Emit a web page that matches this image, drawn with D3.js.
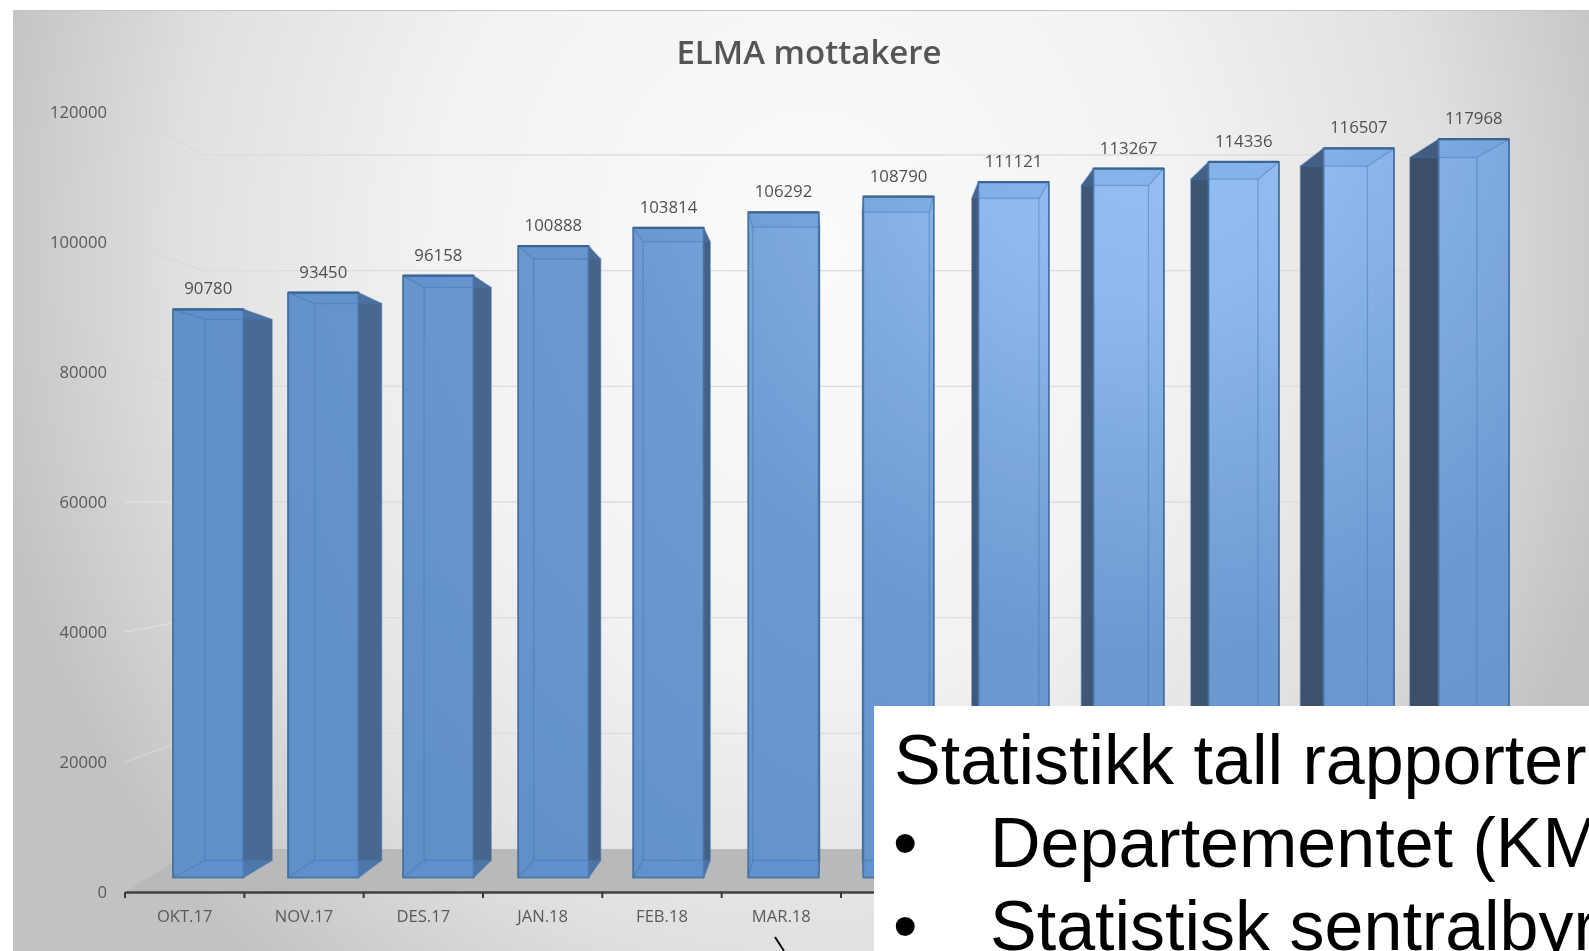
<!DOCTYPE html>
<html><head><meta charset="utf-8">
<script src="https://cdn.jsdelivr.net/npm/d3@7/dist/d3.min.js"></script>
<style>html,body{margin:0;padding:0;background:#fff;overflow:hidden}svg{display:block}</style>
</head><body><div id="c"></div>
<script>
const categories=["OKT.17","NOV.17","DES.17","JAN.18","FEB.18","MAR.18","APR.18","MAI.18","JUN.18","JUL.18","AUG.18","SEP.18"];
const hiddenCategories=["MAI.18","JUN.18","JUL.18","AUG.18","SEP.18"]; // covered by the note box in the reference
const values=[90780,93450,96158,100888,103814,106292,108790,111121,113267,114336,116507,117968];
const yTicks=[0,20000,40000,60000,80000,100000,120000];
const titleText="ELMA mottakere";
const noteLines=["Statistikk tall rapporterer","Departementet (KMD)","Statistisk sentralbyrå"];

const W=1589,H=951;
const svg=d3.select("#c").append("svg").attr("width",W).attr("height",H);
const defs=svg.append("defs");
const bg=defs.append("radialGradient").attr("id","bg").attr("gradientUnits","userSpaceOnUse")
 .attr("cx",0).attr("cy",0).attr("r",1)
 .attr("gradientTransform","translate(810,250) scale(840,950)");
[[0,"#fbfbfb"],[.45,"#f2f2f2"],[.75,"#e0e0e0"],[1,"#c2c2c2"]].forEach(s=>bg.append("stop").attr("offset",s[0]).attr("stop-color",s[1]));
const fr=defs.append("radialGradient").attr("id","front").attr("gradientUnits","userSpaceOnUse")
 .attr("cx",1150).attr("cy",100).attr("r",1000);
[[0,"#98c2f5"],[.2,"#8fb9ee"],[.35,"#7faae0"],[.55,"#6c99d0"],[1,"#6190c8"]].forEach(s=>fr.append("stop").attr("offset",s[0]).attr("stop-color",s[1]));
defs.append("filter").attr("id","soft").append("feGaussianBlur").attr("stdDeviation",.5);

// scales
const xAxisScale=d3.scaleBand().domain(categories).range([125,1557]);
const xBar=d3.scaleBand().domain(categories).range([173,173+115.05*12]);
const barW=70.5;
const yFront=d3.scaleLinear().domain([0,120000]).range([877.5,126.5]);
const yWall=d3.scaleLinear().domain([0,120000]).range([849,155]);
const yLabel=d3.scaleLinear().domain([0,120000]).range([892,112]);
const vx=841,vy=520,k=.048;
const proj=(x,y)=>[x+(vx-x)*k,y+(vy-y)*k];
const poly=p=>p.map(q=>q.join(",")).join(" ");

svg.append("rect").attr("x",13).attr("y",10).attr("width",W-13).attr("height",H-10).attr("fill","url(#bg)");
svg.append("line").attr("x1",13).attr("x2",W).attr("y1",10.5).attr("y2",10.5).attr("stroke","#c4c4c4");

const g=svg.append("g").attr("filter","url(#soft)");

// walls: gridlines
const wallL=203,wallR=1470;
yTicks.filter(d=>d>0).forEach(d=>{
 g.append("line").attr("stroke",d>=80000?"#d4d4d4":"#ffffff").attr("stroke-opacity",d>=80000?.5:.3).attr("stroke-width",1.3)
  .attr("x1",125).attr("y1",yLabel(d)).attr("x2",wallL).attr("y2",yWall(d));
 g.append("line").attr("stroke","#dcdcdc").attr("stroke-width",1.3)
  .attr("x1",wallL).attr("y1",yWall(d)).attr("x2",wallR).attr("y2",yWall(d));
});
// floor
g.append("polygon").attr("fill","#b9b9b9")
 .attr("points",poly([[125,yLabel(0)],[wallL-8,yWall(0)],[wallR+10,yWall(0)],[1557,yLabel(0)]]));

// bars
const n=values.length;
values.forEach((v,i)=>{
 const c=categories[i],x0=xBar(c),x1=x0+barW,t=yFront(v),b=yFront(0);
 const [ax,at]=proj(x0,t),[bx,ab]=proj(x1,b);
 const bar=g.append("g");
 const sideCol=d3.interpolateRgb("#4a6b93","#3b4f69")(i/(n-1));
 if(bx>x1) bar.append("polygon").attr("fill",sideCol).attr("points",poly([[x1,t],[bx,at],[bx,ab],[x1,b]]));
 if(ax<x0) bar.append("polygon").attr("fill",sideCol).attr("points",poly([[x0,t],[ax,at],[ax,ab],[x0,b]]));
 bar.append("rect").attr("x",x0).attr("y",t).attr("width",barW).attr("height",b-t).attr("fill","url(#front)")
  .attr("stroke","#456f9f").attr("stroke-width",1.8);
 // top and floor faces
 bar.append("polygon").attr("points",poly([[x0,t],[x1,t],[bx,at],[ax,at]]))
  .attr("fill","#5a8fd0").attr("fill-opacity",.22);
 bar.append("polygon").attr("points",poly([[x0,b],[x1,b],[bx,ab],[ax,ab]]))
  .attr("fill","#5c92d6").attr("fill-opacity",.35);
 bar.append("line").attr("x1",x0).attr("x2",x1).attr("y1",t).attr("y2",t).attr("stroke","#3b6593").attr("stroke-width",2.2);
 // hidden back edges, seen through the glass
 const inner=bar.append("g").attr("fill","none").attr("stroke","#4373ad").attr("stroke-opacity",.45).attr("stroke-width",1.3);
 inner.append("rect").attr("x",ax).attr("y",at).attr("width",bx-ax).attr("height",ab-at);
 inner.append("line").attr("x1",x0).attr("y1",t).attr("x2",ax).attr("y2",at);
 inner.append("line").attr("x1",x1).attr("y1",t).attr("x2",bx).attr("y2",at);
 inner.append("line").attr("x1",x0).attr("y1",b).attr("x2",ax).attr("y2",ab);
 inner.append("line").attr("x1",x1).attr("y1",b).attr("x2",bx).attr("y2",ab);
 // value label
 g.append("text").attr("x",x0+barW/2).attr("y",t-15).attr("text-anchor","middle")
  .attr("font-family","'Open Sans'").attr("font-size",16.8).attr("fill","#505050").text(v);
});

// axes
const ay=g.append("g").attr("transform","translate(107,0)")
 .call(d3.axisLeft(yLabel).tickValues(yTicks).tickSize(0).tickPadding(0).tickFormat(d3.format("d")));
ay.select(".domain").remove();
ay.selectAll("text").attr("font-family","'Open Sans'").attr("font-size",16.6).attr("fill","#5a5a5a");
const axB=g.append("g").attr("transform",`translate(0,${yLabel(0)})`)
 .call(d3.axisBottom(xAxisScale).tickSize(0).tickPadding(18));
axB.select(".domain").attr("stroke","#404040").attr("stroke-width",2.4);
axB.selectAll("text").attr("font-family","'Open Sans'").attr("font-size",16.6).attr("fill","#5a5a5a");
axB.selectAll(".tick").filter(d=>hiddenCategories.includes(d)).remove();
const edges=d3.range(n+1).map(i=>125+i*xAxisScale.step());
axB.selectAll("line.edge").data(edges).join("line").attr("class","edge").attr("x1",d=>d).attr("x2",d=>d).attr("y1",0).attr("y2",6).attr("stroke","#383838").attr("stroke-width",2);

g.append("text").attr("x",809).attr("y",64).attr("text-anchor","middle")
 .attr("font-family","'Open Sans'").attr("font-weight",600).attr("font-size",33).attr("fill","#555").text(titleText);

// pointer
svg.append("line").attr("x1",775).attr("y1",937).attr("x2",784).attr("y2",951).attr("stroke","#111").attr("stroke-width",2);

// white note box
svg.append("rect").attr("x",874).attr("y",706).attr("width",W-874).attr("height",H-706).attr("fill","#fff");
const note=svg.append("g").attr("font-family","'Liberation Sans'").attr("font-size",70).attr("fill","#000");
note.append("text").attr("x",894).attr("y",784).text(noteLines[0]);
[867,950].forEach((y,i)=>{
 note.append("text").attr("x",893).attr("y",y).text("•");
 note.append("text").attr("x",990).attr("y",y).text(noteLines[i+1]);
});
</script></body></html>
